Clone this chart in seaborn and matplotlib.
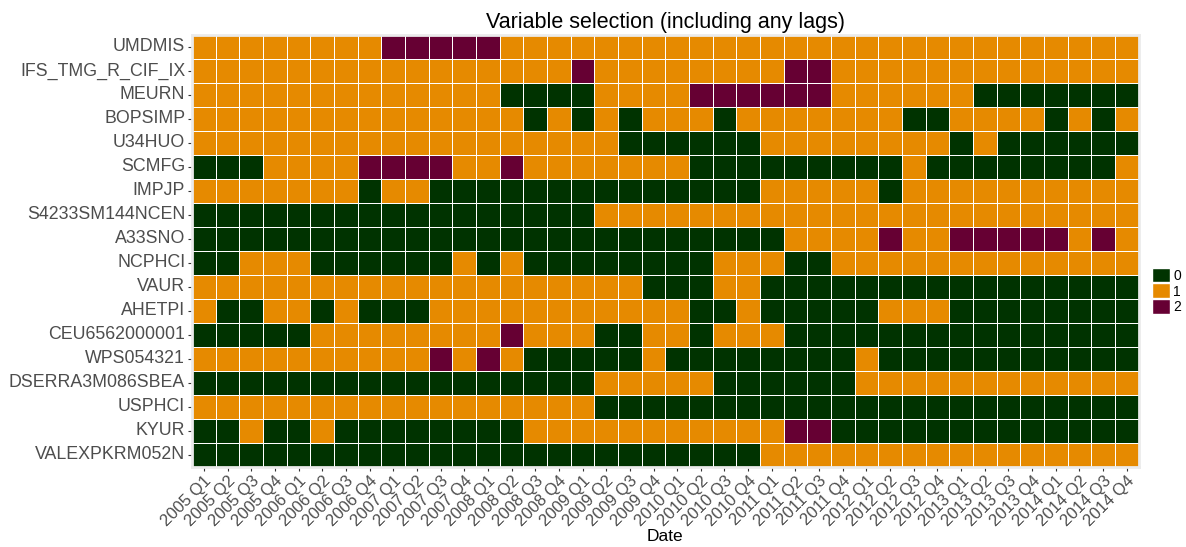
import numpy as np
import pandas as pd
import matplotlib.pyplot as plt
import seaborn as sns
from matplotlib.colors import ListedColormap
from matplotlib.patches import Patch

plt.rcParams['font.family'] = ['Liberation Sans', 'DejaVu Sans']

# variables (top to bottom) and quarters
variables = ['UMDMIS', 'IFS_TMG_R_CIF_IX', 'MEURN', 'BOPSIMP', 'U34HUO', 'SCMFG',
             'IMPJP', 'S4233SM144NCEN', 'A33SNO', 'NCPHCI', 'VAUR', 'AHETPI',
             'CEU6562000001', 'WPS054321', 'DSERRA3M086SBEA', 'USPHCI', 'KYUR',
             'VALEXPKRM052N']
quarters = [f'{y} Q{q}' for y in range(2005, 2015) for q in range(1, 5)]

# selection codes per variable, one digit per quarter (2005 Q1 .. 2014 Q4)
codes = [
    '1111111122222111111111111111111111111111',  # UMDMIS
    '1111111111111111211111111221111111111111',  # IFS_TMG_R_CIF_IX
    '1111111111111000011112222221111110000000',  # MEURN
    '1111111111111101010111011111110011110101',  # BOPSIMP
    '1111111111111111110000001111111101000000',  # U34HUO
    '0001111222211211111110000000001000000001',  # SCMFG
    '1111111011000000000000001111101111111111',  # IMPJP
    '0000000000000000011111111111111111111111',  # S4233SM144NCEN
    '0000000000000000000000000111121122222121',  # A33SNO
    '0011100000010100000000111001111111111111',  # NCPHCI
    '1111111111111111111000110000000000000000',  # VAUR
    '1001101000111111111110010000011100000000',  # AHETPI
    '0000011111111211100110111000000000000000',  # CEU6562000001
    '1111111111212100000100000000100000000000',  # WPS054321
    '0000000000000000011111000000111111111111',  # DSERRA3M086SBEA
    '1111111111111111100000000000000000000000',  # USPHCI
    '0010010000000011111111111220000000000000',  # KYUR
    '0000000000000000000000001111111111111111',  # VALEXPKRM052N
]

levels = ['0', '1', '2']
colors = ['#003300', '#E68A00', '#660033']

data = pd.DataFrame([[int(c) for c in row] for row in codes],
                    index=variables, columns=quarters)

fig = plt.figure(figsize=(11.86, 5.47), dpi=100)
ax = fig.add_axes([0.162, 0.147, 0.798, 0.789])
ax.set_facecolor('#EBEBEB')

sns.heatmap(data, ax=ax, cmap=ListedColormap(colors), vmin=-0.5, vmax=2.5,
            cbar=False, linewidths=0.7, linecolor='white', square=False)

ax.set_title('Variable selection (including any lags)', fontsize=15.5, color='black', pad=5)
ax.set_xlabel('Date', fontsize=12.5, color='black', labelpad=0)
ax.set_ylabel('')
ax.set_xticks(np.arange(len(quarters)) + 0.5)
ax.set_xticklabels(quarters, rotation=45, ha='right', rotation_mode='anchor',
                   fontsize=12, color='#4D4D4D')
ax.set_yticks(np.arange(len(variables)) + 0.5)
ax.set_yticklabels(variables, rotation=0, fontsize=12.8, color='#4D4D4D')
ax.tick_params(axis='both', length=3, width=0.8, color='#333333', pad=2)
for s in ax.spines.values():
    s.set_visible(True)
    s.set_color('#EBEBEB')
    s.set_linewidth(2)

handles = [Patch(facecolor=c, edgecolor='white', label=l) for l, c in zip(levels, colors)]
leg = fig.legend(handles=handles, loc='center left', bbox_to_anchor=(0.967, 0.468),
                 frameon=False, fontsize=10, handlelength=1.25, handleheight=1.25,
                 handletextpad=0.25, labelspacing=0.05, borderaxespad=0)

fig.savefig('out.png', dpi=100)
